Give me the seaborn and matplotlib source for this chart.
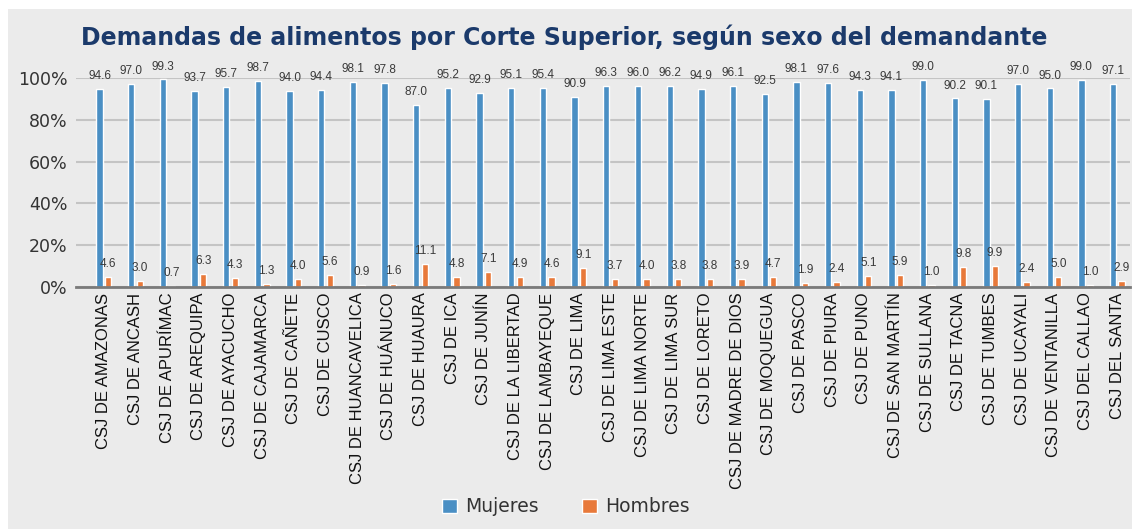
import matplotlib
matplotlib.use("Agg")
import matplotlib.pyplot as plt
import seaborn as sns
import pandas as pd
from matplotlib.patches import Rectangle

categories = ["CSJ DE AMAZONAS", "CSJ DE ANCASH", "CSJ DE APURÍMAC", "CSJ DE AREQUIPA",
              "CSJ DE AYACUCHO", "CSJ DE CAJAMARCA", "CSJ DE CAÑETE", "CSJ DE CUSCO",
              "CSJ DE HUANCAVELICA", "CSJ DE HUÁNUCO", "CSJ DE HUAURA", "CSJ DE ICA",
              "CSJ DE JUNÍN", "CSJ DE LA LIBERTAD", "CSJ DE LAMBAYEQUE", "CSJ DE LIMA",
              "CSJ DE LIMA ESTE", "CSJ DE LIMA NORTE", "CSJ DE LIMA SUR", "CSJ DE LORETO",
              "CSJ DE MADRE DE DIOS", "CSJ DE MOQUEGUA", "CSJ DE PASCO", "CSJ DE PIURA",
              "CSJ DE PUNO", "CSJ DE SAN MARTÍN", "CSJ DE SULLANA", "CSJ DE TACNA",
              "CSJ DE TUMBES", "CSJ DE UCAYALI", "CSJ DE VENTANILLA", "CSJ DEL CALLAO",
              "CSJ DEL SANTA"]
mujeres = [94.6, 97.0, 99.3, 93.7, 95.7, 98.7, 94.0, 94.4, 98.1, 97.8, 87.0, 95.2, 92.9,
           95.1, 95.4, 90.9, 96.3, 96.0, 96.2, 94.9, 96.1, 92.5, 98.1, 97.6, 94.3, 94.1,
           99.0, 90.2, 90.1, 97.0, 95.0, 99.0, 97.1]
hombres = [4.6, 3.0, 0.7, 6.3, 4.3, 1.3, 4.0, 5.6, 0.9, 1.6, 11.1, 4.8, 7.1, 4.9, 4.6,
           9.1, 3.7, 4.0, 3.8, 3.8, 3.9, 4.7, 1.9, 2.4, 5.1, 5.9, 1.0, 9.8, 9.9, 2.4, 5.0,
           1.0, 2.9]
series_names = ["Mujeres", "Hombres"]
y_ticks = [0, 20, 40, 60, 80, 100]
title = "Demandas de alimentos por Corte Superior, según sexo del demandante"

BG = "#ebebeb"
BLUE = "#4a8fc4"
ORANGE = "#e8793a"

df = pd.DataFrame({
    "corte": categories * 2,
    "sexo": [series_names[0]] * len(categories) + [series_names[1]] * len(categories),
    "valor": mujeres + hombres,
})

sns.set_theme(style="white")
plt.rcParams["font.family"] = ["DejaVu Sans"]

fig = plt.figure(figsize=(11.32, 5.29), dpi=100, facecolor="white")
fig.patches.append(Rectangle((8 / 1132, 0), 1 - 8 / 1132, 1 - 9 / 529,
                             transform=fig.transFigure, facecolor=BG,
                             edgecolor="none", zorder=-10))

ax = fig.add_axes([76 / 1132, 1 - 287 / 529, (1130 - 76) / 1132, (287 - 78) / 529])
ax.set_facecolor(BG)

sns.barplot(data=df, x="corte", y="valor", hue="sexo", order=categories,
            hue_order=series_names, palette=[BLUE, ORANGE], width=0.54, gap=0.26,
            saturation=1, ax=ax, legend=True, zorder=3)

for cont, vals in zip(ax.containers, [mujeres, hombres]):
    ax.bar_label(cont, labels=[f"{v:.1f}" for v in vals], padding=5,
                 fontsize=8.5, color="#3a3a3a", family="Liberation Sans")

ax.set_xlim(-0.88, 32.4)
ax.set_ylim(0, 100)
ax.set_yticks(y_ticks)
ax.set_yticklabels([f"{t}%" for t in y_ticks], fontsize=12.5, color="#333333")
ax.tick_params(axis="y", length=0, pad=6)
ax.tick_params(axis="x", length=0, pad=4)
for lbl in ax.get_xticklabels():
    lbl.set_rotation(90)
    lbl.set_fontsize(12)
    lbl.set_family("Liberation Sans")
    lbl.set_color("#111111")
ax.set_xlabel("")
ax.set_ylabel("")
ax.yaxis.grid(True, color="#c4c4c4", linewidth=1.5, zorder=0)
ax.set_axisbelow(True)
for s in ["top", "right", "left"]:
    ax.spines[s].set_visible(False)
ax.spines["bottom"].set_color("#7a7a7a")
ax.spines["bottom"].set_linewidth(2)
ax.spines["bottom"].set_zorder(4)

handles, labels = ax.get_legend_handles_labels()
ax.get_legend().remove()
fig.legend(handles, labels, loc="center", bbox_to_anchor=(0.5, 1 - 507 / 529),
           ncol=2, frameon=False, fontsize=13.5, handlelength=0.8, handleheight=0.8,
           handletextpad=0.45, columnspacing=2.3, labelcolor="#333333")

fig.text(81 / 1132, 1 - 37 / 529, title, fontsize=17, fontweight="bold",
         color="#1b3a6b", ha="left", va="center")

fig.savefig("out.png", dpi=100, facecolor="white")
